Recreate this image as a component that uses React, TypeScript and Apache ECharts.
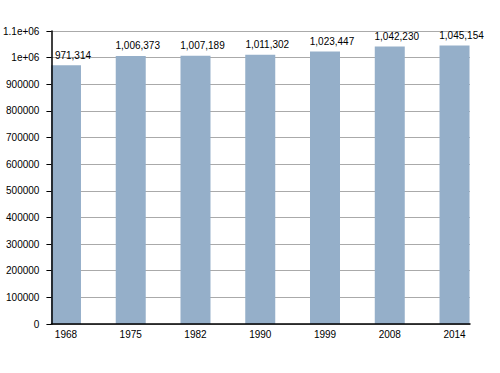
import React, { useEffect, useRef } from "react";
import * as echarts from "echarts";

const years = ["1968", "1975", "1982", "1990", "1999", "2008", "2014"];
const population = [971314, 1006373, 1007189, 1011302, 1023447, 1042230, 1045154];
const yMax = 1100000;
const yStep = 100000;

export default function App() {
  const ref = useRef<HTMLDivElement>(null);
  useEffect(() => {
    document.body.style.margin = "0";
    const chart = echarts.init(ref.current!, null, { renderer: "svg" });
    const font = "'Liberation Sans', Arial, sans-serif";
    const fmtY = (v: number) => {
      if (v === 1100000) return "1.1e+06";
      if (v === 1000000) return "1e+06";
      return String(v);
    };
    const plotGrid = { left: 50, right: 30, top: 31, bottom: 49 };
    chart.setOption({
      animation: false,
      backgroundColor: "#ffffff",
      textStyle: { fontFamily: font },
      grid: [
        { ...plotGrid },
        { left: 33.6, right: 13.1, top: 31, bottom: 49 },
        { ...plotGrid },
      ],
      xAxis: [
        {
          gridIndex: 0,
          type: "value",
          min: 0,
          max: 1,
          show: false,
        },
        {
          gridIndex: 1,
          type: "category",
          data: years,
          axisLine: { show: false },
          axisTick: { show: false },
          axisLabel: { color: "#000", fontSize: 10, margin: 5, fontFamily: font },
          splitLine: { show: false },
        },
        {
          gridIndex: 2,
          type: "value",
          min: 0,
          max: 1,
          z: 5,
          axisLine: { show: true, onZero: false, lineStyle: { color: "#000", width: 1.5 } },
          axisTick: { show: false },
          axisLabel: { show: false },
          splitLine: { show: false },
        },
      ],
      yAxis: [
        {
          gridIndex: 0,
          type: "value",
          min: 0,
          max: yMax,
          interval: yStep,
          z: 0,
          axisLine: { show: false },
          axisTick: { show: false },
          axisLabel: { show: false },
          splitLine: { show: true, lineStyle: { color: "#aaaaaa", width: 1 } },
        },
        {
          gridIndex: 1,
          type: "value",
          min: 0,
          max: yMax,
          interval: yStep,
          show: false,
        },
        {
          gridIndex: 2,
          type: "value",
          min: 0,
          max: yMax,
          interval: yStep,
          z: 5,
          axisLine: { show: true, lineStyle: { color: "#000", width: 1.5 } },
          axisTick: { show: true, inside: false, length: 5, lineStyle: { color: "#000" } },
          axisLabel: { color: "#000", fontSize: 10, margin: 12, formatter: fmtY, fontFamily: font },
          splitLine: { show: false },
        },
      ],
      series: [
        {
          type: "bar",
          xAxisIndex: 1,
          yAxisIndex: 1,
          data: population,
          barWidth: 30,
          itemStyle: { color: "#95afc9" },
          label: {
            show: true,
            position: "top",
            distance: 5,
            offset: [7, 0],
            color: "#000",
            fontSize: 10,
            fontFamily: font,
            formatter: (p: any) => Number(p.value).toLocaleString("en-US"),
          },
        },
      ],
    });
    return () => chart.dispose();
  }, []);
  return <div ref={ref} style={{ width: 500, height: 373, position: "absolute", left: 0, top: 0 }} />;
}
